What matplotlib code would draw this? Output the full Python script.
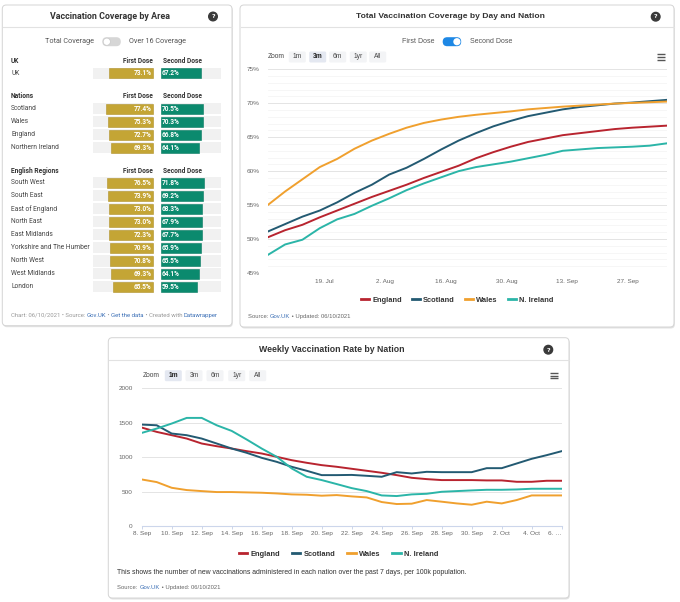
import datetime as dt
import matplotlib
matplotlib.use('Agg')
import matplotlib.pyplot as plt
from matplotlib.patches import FancyBboxPatch, Circle

W, H = 680, 602

# ---------- panel 1 : coverage by area ----------
uk_names = ['UK']
uk_first = [73.1]
uk_second = [67.2]
nation_names = ['Scotland', 'Wales', 'England', 'Northern Ireland']
nation_first = [77.4, 75.3, 72.7, 69.3]
nation_second = [70.5, 70.3, 66.8, 64.1]
region_names = ['South West', 'South East', 'East of England', 'North East', 'East Midlands',
                'Yorkshire and The Humber', 'North West', 'West Midlands', 'London']
region_first = [76.5, 73.9, 73.0, 73.0, 72.3, 70.9, 70.8, 69.3, 65.5]
region_second = [71.8, 69.2, 68.3, 67.9, 67.7, 65.9, 65.5, 64.1, 59.5]

# ---------- panel 2 : second dose coverage (%) ----------
cov_start = dt.date(2021, 7, 6)
cov_days = [0, 4, 8, 12, 16, 20, 24, 28, 32, 36, 40, 44, 48, 52, 56, 60, 64, 68, 72, 76, 80, 84, 88, 92]
cov_england = [50.25, 51.3, 52.1, 53.2, 54.2, 55.2, 56.2, 57.1, 58.0, 59.0, 59.9, 60.8,
               61.9, 62.8, 63.6, 64.3, 64.8, 65.3, 65.6, 65.9, 66.2, 66.4, 66.55, 66.7]
cov_scotland = [51.1, 52.2, 53.3, 54.2, 55.4, 56.8, 58.0, 59.5, 60.5, 61.8, 63.2, 64.5,
                65.6, 66.6, 67.4, 68.1, 68.6, 69.1, 69.45, 69.7, 69.95, 70.1, 70.3, 70.5]
cov_wales = [55.0, 57.0, 58.8, 60.6, 61.8, 63.3, 64.5, 65.5, 66.4, 67.1, 67.6, 68.0,
             68.3, 68.55, 68.8, 69.1, 69.3, 69.5, 69.65, 69.8, 69.95, 70.05, 70.15, 70.25]
cov_nireland = [47.65, 49.2, 49.9, 51.6, 52.9, 53.7, 54.9, 56.0, 57.2, 58.2, 59.1, 60.0,
                60.6, 61.0, 61.4, 61.9, 62.4, 63.0, 63.2, 63.4, 63.5, 63.6, 63.75, 64.1]
cov_ticks = ['19 Jul', '2 Aug', '16 Aug', '30 Aug', '13 Sep', '27 Sep']

# ---------- panel 3 : weekly rate per 100k, 8 Sep - 6 Oct ----------
rate_start = dt.date(2021, 9, 8)
rate_england = [1430, 1367, 1319, 1270, 1198, 1159, 1125, 1087, 1053, 1005, 956, 918, 884, 860, 831,
                802, 773, 739, 700, 681, 667, 667, 667, 662, 662, 642, 642, 657, 657]
rate_scotland = [1473, 1463, 1343, 1319, 1270, 1198, 1125, 1063, 990, 932, 860, 802, 739, 739, 742,
                 729, 715, 782, 763, 787, 782, 782, 782, 840, 840, 908, 976, 1029, 1087]
rate_wales = [676, 638, 555, 522, 507, 493, 493, 488, 483, 473, 459, 454, 440, 449, 430,
              415, 348, 319, 324, 377, 353, 328, 309, 353, 328, 377, 444, 444, 444]
rate_nireland = [1352, 1415, 1488, 1570, 1570, 1463, 1381, 1256, 1125, 1005, 836, 715, 667, 609, 550,
                 507, 444, 435, 459, 468, 497, 507, 517, 526, 526, 531, 541, 541, 541]

series_names = ['England', 'Scotland', 'Wales', 'N. Ireland']
series_colors = ['#b8242f', '#235a72', '#f0a02e', '#2bb5a8']
GOLD = '#c4a535'
GREEN = '#0b8a6e'
LINK = '#3b6fb6'
HC = 'Liberation Sans'
DW = 'Roboto'

fig = plt.figure(figsize=(W / 100, H / 100), dpi=100)
fig.patch.set_facecolor('white')
bg = fig.add_axes([0, 0, 1, 1])
bg.set_xlim(0, W)
bg.set_ylim(H, 0)
bg.axis('off')


def px_axes(x0, y0, x1, y1):
    return fig.add_axes([x0 / W, 1 - y1 / H, (x1 - x0) / W, (y1 - y0) / H])


def panel(x0, y0, x1, y1, hy):
    bg.add_patch(FancyBboxPatch((x0 + 0.8, y0 + 1.5), x1 - x0, y1 - y0,
                                boxstyle='round,pad=0,rounding_size=4', fc='#e2e2e2', ec='none'))
    bg.add_patch(FancyBboxPatch((x0, y0), x1 - x0, y1 - y0,
                                boxstyle='round,pad=0,rounding_size=4', fc='white', ec='#d4d4d4', lw=0.7))
    bg.plot([x0 + 0.5, x1 - 0.5], [hy, hy], color='#e2e2e2', lw=0.8)


def help_icon(x, y):
    bg.add_patch(Circle((x, y), 4.3, color='#3a3a3a'))
    bg.text(x, y + 0.3, '?', color='white', fontsize=4.6, fontweight='bold',
            ha='center', va='center', family='DejaVu Sans')


def burger(x, y):
    for dy in (-2.7, 0, 2.7):
        bg.plot([x - 4.2, x + 4.2], [y + dy, y + dy], color='#555555', lw=1.0, solid_capstyle='butt')


def toggle(x0, y, on):
    fc = '#1e88e5' if on else '#d6d6d6'
    bg.add_patch(FancyBboxPatch((x0, y - 4.5), 18.5, 9, boxstyle='round,pad=0,rounding_size=4.5',
                                fc=fc, ec='none'))
    kx = x0 + 14.2 if on else x0 + 4.5
    bg.add_patch(Circle((kx, y), 3.6, fc='white', ec='none' if on else '#c8c8c8', lw=0.5))


def zoom_bar(xs, y, sel):
    bg.text(xs[0], y, 'Zoom', ha='center', va='center', fontsize=4.8, color='#444', family=HC)
    for lab, cx in zip(['1m', '3m', '6m', '1yr', 'All'], xs[1:]):
        fc = '#e4e8f1' if lab == sel else '#f3f4f6'
        bg.add_patch(FancyBboxPatch((cx - 8.5, y - 5.5), 17, 11, boxstyle='round,pad=0,rounding_size=1.5',
                                    fc=fc, ec='none'))
        bg.text(cx, y, lab, ha='center', va='center', fontsize=4.8, color='#222' if lab == sel else '#444',
                fontweight='bold' if lab == sel else 'normal', family=HC)


def rich(x, y, parts, **kw):
    r = fig.canvas.get_renderer()
    acc = ''
    for s, c in parts:
        off = 0
        if acc:
            t = bg.text(0, 0, acc + '|', **kw)
            w1 = t.get_window_extent(r).width
            t.remove()
            t = bg.text(0, 0, '|', **kw)
            w2 = t.get_window_extent(r).width
            t.remove()
            off = w1 - w2
        bg.text(x + off, y, s, color=c, ha='left', va='center', **kw)
        acc += s


# ================= panel 1 =================
panel(2.3, 5, 232, 325.7, 26.5)
bg.text(110, 16.8, 'Vaccination Coverage by Area', ha='center', va='center',
        fontsize=6.4, fontweight='bold', color='#333', family=DW)
help_icon(213, 16.5)
bg.text(94, 41.7, 'Total Coverage', ha='right', va='center', fontsize=5.2, color='#555', family=DW)
toggle(102.3, 41.7, False)
bg.text(129, 41.7, 'Over 16 Coverage', ha='left', va='center', fontsize=5.2, color='#555', family=DW)

ax1 = px_axes(92.7, 55, 221, 300)
ax1.set_xlim(-100, 113.8)
ax1.set_ylim(300, 55)
ax1.axis('off')
GAP = 13.8

sections = [('UK', uk_names, uk_first, uk_second),
            ('Nations', nation_names, nation_first, nation_second),
            ('English Regions', region_names, region_first, region_second)]
y = 61
for title, names, first, second in sections:
    bg.text(11, y, title, ha='left', va='center', fontsize=4.8, fontweight='bold', color='#333', family=DW)
    bg.text(152.7, y, 'First Dose', ha='right', va='center', fontsize=4.8, fontweight='bold', color='#333', family=DW)
    bg.text(163, y, 'Second Dose', ha='left', va='center', fontsize=4.8, fontweight='bold', color='#333', family=DW)
    rows = [y + 12.3 + 13 * i for i in range(len(names))]
    ax1.barh(rows, 100, left=-100, height=11.2, color='#f1f1f1')
    ax1.barh(rows, 100, left=GAP, height=11.2, color='#f1f1f1')
    ax1.barh(rows, [-v for v in first], left=0, height=10, color=GOLD, edgecolor='#b0922a', lw=0.4)
    ax1.barh(rows, second, left=GAP, height=10, color=GREEN, edgecolor='#077a60', lw=0.4)
    for ry, n, f, s in zip(rows, names, first, second):
        bg.text(11, ry, n, ha='left', va='center', fontsize=4.8, color='#444', family=DW)
        ax1.text(-1.8, ry, f'{f:.1f}%', ha='right', va='center', fontsize=4.7,
                 fontweight='bold', color='white', family=DW)
        ax1.text(GAP + 1.8, ry, f'{s:.1f}%', ha='left', va='center', fontsize=4.7,
                 fontweight='bold', color='white', family=DW)
    y = rows[-1] + 23

rich(11, 315.3, [('Chart: 06/10/2021 • Source: ', '#999'), ('Gov.UK', LINK), (' • ', '#999'),
                 ('Get the data', LINK), (' • Created with ', '#999'), ('Datawrapper', LINK)],
     fontsize=4.35, family=DW)

# ================= panel 2 =================
panel(240, 5, 674, 327, 26.7)
bg.text(450, 16.8, 'Total Vaccination Coverage by Day and Nation', ha='center', va='center',
        fontsize=6.1, fontweight='bold', color='#333', family=HC)
help_icon(655.7, 16.7)
bg.text(434.3, 41.7, 'First Dose', ha='right', va='center', fontsize=5, color='#555', family=HC)
toggle(442.7, 41.7, True)
bg.text(470, 41.7, 'Second Dose', ha='left', va='center', fontsize=5, color='#555', family=HC)
zoom_bar([276.7, 297.3, 317.7, 337.7, 358.3, 377.7], 57, '3m')
burger(660.7, 57)

ax2 = px_axes(267.7, 69.3, 666.9, 273)
cov_dates = [cov_start + dt.timedelta(days=d) for d in cov_days]
for vals, name, col in zip([cov_england, cov_scotland, cov_wales, cov_nireland], series_names, series_colors):
    ax2.plot(cov_dates, vals, color=col, lw=1.4, label=name, solid_joinstyle='round')
ax2.set_xlim(cov_start, cov_start + dt.timedelta(days=92))
ax2.set_ylim(45, 75)
tick_dates = [dt.datetime.strptime(t + ' 2021', '%d %b %Y').date() for t in cov_ticks]
ax2.set_xticks(tick_dates)
ax2.set_xticklabels([f'{d.day}. {d.strftime("%b")}' for d in tick_dates])
ax2.set_yticks(range(45, 76, 5))
ax2.set_yticklabels([f'{v}%' for v in range(45, 76, 5)])
ax2.set_yticks(range(45, 76), minor=True)
ax2.grid(axis='y', which='major', color='#e4e4e4', lw=0.7)
ax2.grid(axis='y', which='minor', color='#f5f5f5', lw=0.6)
ax2.set_axisbelow(True)
for s in ax2.spines.values():
    s.set_visible(False)
ax2.tick_params(axis='y', which='both', length=0, pad=5.5, labelsize=4.6, labelcolor='#666')
ax2.tick_params(axis='x', length=0, pad=4, labelsize=4.6, labelcolor='#666')
for lab in ax2.get_xticklabels() + ax2.get_yticklabels():
    lab.set_family(HC)
ax2.set_facecolor('none')
leg2 = ax2.legend(loc='center', bbox_to_anchor=(457 / W, 1 - 300 / H), bbox_transform=fig.transFigure,
                  ncol=4, frameon=False, handlelength=1.1, handletextpad=0.45, columnspacing=1.3,
                  prop={'family': HC, 'weight': 'bold', 'size': 5.4})
for t in leg2.get_texts():
    t.set_color('#333')
for l in leg2.get_lines():
    l.set_linewidth(2.0)
rich(247.7, 316.7, [('Source: ', '#666'), ('Gov.UK', LINK), (' • Updated: 06/10/2021', '#666')],
     fontsize=4.2, family=HC)

# ================= panel 3 =================
panel(108.3, 337.7, 569, 598, 360)
bg.text(331.7, 349.7, 'Weekly Vaccination Rate by Nation', ha='center', va='center',
        fontsize=6.3, fontweight='bold', color='#333', family=HC)
help_icon(548.3, 349.7)
zoom_bar([151, 173.3, 194, 215, 236.7, 257.7], 375.7, '1m')
burger(554, 375.7)

ax3 = px_axes(141.7, 388.3, 561.7, 526)
rate_dates = [rate_start + dt.timedelta(days=i) for i in range(len(rate_england))]
for vals, name, col in zip([rate_england, rate_scotland, rate_wales, rate_nireland], series_names, series_colors):
    ax3.plot(rate_dates, vals, color=col, lw=1.4, label=name, solid_joinstyle='round')
ax3.set_xlim(rate_dates[0], rate_dates[-1])
ax3.set_ylim(0, 2000)
ax3.set_yticks(range(0, 2001, 500))
xt = rate_dates[::2]
ax3.set_xticks(xt)
labels3 = [f'{d.day}. {d.strftime("%b")}' for d in xt]
labels3[-1] = f'{xt[-1].day}. …'
ax3.set_xticklabels(labels3)
ax3.xaxis.get_ticklabels()[-1].set_horizontalalignment('right')
ax3.grid(axis='y', color='#e4e4e4', lw=0.7)
ax3.set_axisbelow(True)
for k, s in ax3.spines.items():
    s.set_visible(k == 'bottom')
ax3.spines['bottom'].set_color('#ccd6eb')
ax3.spines['bottom'].set_linewidth(0.8)
ax3.tick_params(axis='y', length=0, pad=6.5, labelsize=4.6, labelcolor='#666')
ax3.tick_params(axis='x', length=2.4, width=0.7, color='#ccd6eb', pad=1.5, labelsize=4.6, labelcolor='#666')
for lab in ax3.get_xticklabels() + ax3.get_yticklabels():
    lab.set_family(HC)
ax3.set_facecolor('none')
leg3 = ax3.legend(loc='center', bbox_to_anchor=(338.5 / W, 1 - 554.3 / H), bbox_transform=fig.transFigure,
                  ncol=4, frameon=False, handlelength=1.1, handletextpad=0.45, columnspacing=1.6,
                  prop={'family': HC, 'weight': 'bold', 'size': 5.4})
for t in leg3.get_texts():
    t.set_color('#333')
for l in leg3.get_lines():
    l.set_linewidth(2.0)
bg.text(117.3, 572.7, 'This shows the number of new vaccinations administered in each nation over the past 7 days, '
        'per 100k population.', ha='left', va='center', fontsize=4.95, color='#333', family=HC)
rich(117.3, 587.7, [('Source: ', '#666'), ('Gov.UK', LINK), (' • Updated: 06/10/2021', '#666')],
     fontsize=4.2, family=HC)

fig.savefig('out.png', dpi=100, facecolor='white')
